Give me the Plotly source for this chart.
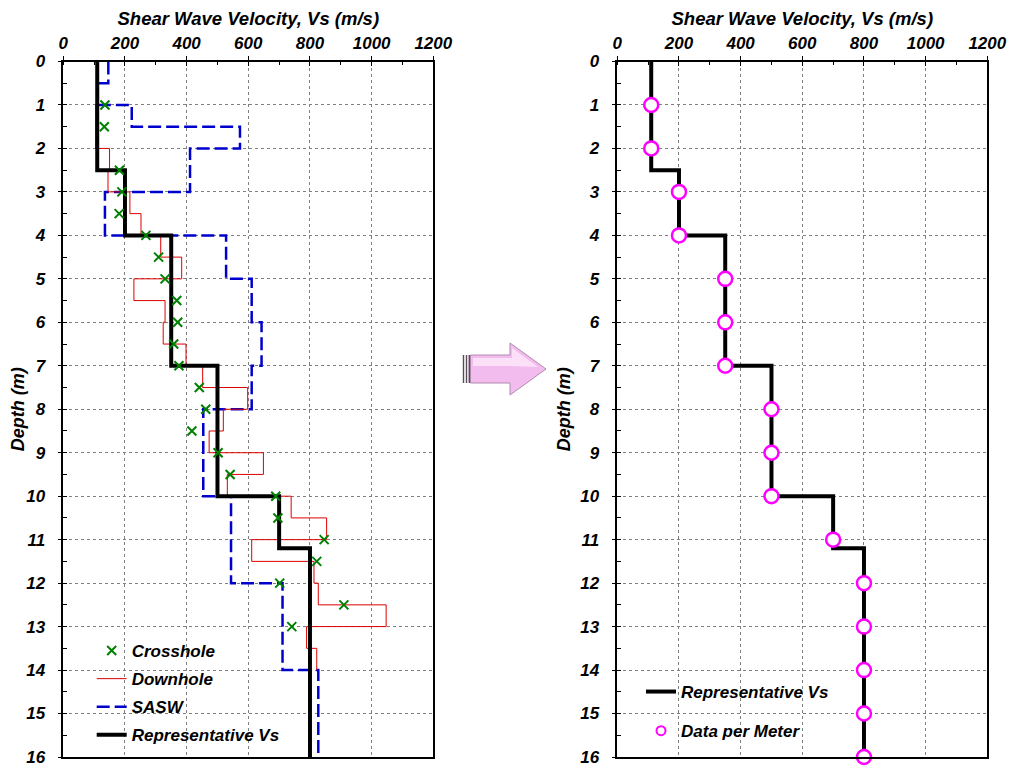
import plotly.graph_objects as go

# ---------------- data ----------------
rep_top = [0, 2.5, 4, 7, 10, 11.2]
rep_bot = [2.5, 4, 7, 10, 11.2, 16]
rep_vs = [110, 200, 350, 500, 700, 800]

down_top = [1, 2, 2.5, 3, 3.5, 4, 4.5, 5, 5.5, 6, 6.5, 7, 7.5, 8, 8.5, 9, 9.5,
            10, 10.5, 11, 11.5, 12, 12.5, 13, 13.5]
down_bot = [2, 2.5, 3, 3.5, 4, 4.5, 5, 5.5, 6, 6.5, 7, 7.5, 8, 8.5, 9, 9.5, 10,
            10.5, 11, 11.5, 12, 12.5, 13, 13.5, 14]
down_vs = [105, 150, 145, 216, 252, 316, 384, 229, 330, 324, 398, 452, 598, 519,
           473, 649, 532, 739, 854, 611, 813, 827, 1047, 789, 822]

sasw_top = [0, 0.5, 1, 1.5, 2, 3, 4, 5, 6, 7, 8, 10, 12, 14]
sasw_bot = [0.5, 1, 1.5, 2, 3, 4, 5, 6, 7, 8, 10, 12, 14, 16]
sasw_vs = [146, 112, 222, 573, 411, 135, 528, 611, 643, 611, 454, 544, 711, 827]

cross_depth = [1, 1.5, 2.5, 3, 3.5, 4, 4.5, 5, 5.5, 6, 6.5, 7, 7.5, 8, 8.5, 9,
               9.5, 10, 10.5, 11, 11.5, 12, 12.5, 13]
cross_vs = [135, 133, 182, 190, 181, 268, 309, 330, 368, 371, 358, 375, 441, 462,
            417, 502, 541, 689, 696, 846, 822, 702, 910, 741]

meter_depth = [1, 2, 3, 4, 5, 6, 7, 8, 9, 10, 11, 12, 13, 14, 15, 16]
meter_vs = [110, 110, 200, 200, 350, 350, 350, 500, 500, 500, 700, 800, 800,
            800, 800, 800]

x_title = "Shear Wave Velocity, Vs (m/s)"
y_title = "Depth (m)"


def steps(tops, bots, vs):
    xs, ys = [], []
    for t, b, v in zip(tops, bots, vs):
        xs += [v, v]
        ys += [t, b]
    return xs, ys


# page has an 8px body margin: figure occupies page px 8..1009 / 8..766
OFF = 8
W, H = 1001, 758
FONT = "Liberation Sans, Arial, sans-serif"


def fnt(size):
    return dict(family=FONT, size=size, color="black", weight="bold", style="italic")


def px(x):
    return (x - OFF) / W


def py(y):
    return 1 - (y - OFF) / H


fig = go.Figure()

rep_x, rep_y = steps(rep_top, rep_bot, rep_vs)
down_x, down_y = steps(down_top, down_bot, down_vs)
sasw_x, sasw_y = steps(sasw_top, sasw_bot, sasw_vs)

# left panel
fig.add_trace(go.Scatter(x=sasw_x, y=sasw_y, mode="lines", name="SASW",
                         line=dict(color="#0000cc", width=2.5, dash="13px,5px"),
                         legend="legend", legendrank=3, legendgroup="g3",
                         xaxis="x", yaxis="y"))
fig.add_trace(go.Scatter(x=down_x, y=down_y, mode="lines", name="Downhole",
                         line=dict(color="#dd0000", width=1),
                         legend="legend", legendrank=2, legendgroup="g2",
                         xaxis="x", yaxis="y"))
fig.add_trace(go.Scatter(x=rep_x, y=rep_y, mode="lines", name="Representative Vs",
                         line=dict(color="black", width=4),
                         legend="legend", legendrank=4, legendgroup="g4",
                         xaxis="x", yaxis="y"))
fig.add_trace(go.Scatter(x=cross_vs, y=cross_depth, mode="markers", name="Crosshole",
                         marker=dict(symbol="x-thin", size=9, color="#008000",
                                     line=dict(color="#008000", width=2)),
                         legend="legend", legendrank=1, legendgroup="g1",
                         xaxis="x", yaxis="y"))

# right panel
fig.add_trace(go.Scatter(x=rep_x, y=rep_y, mode="lines", name="Representative Vs",
                         line=dict(color="black", width=4),
                         legend="legend2", legendrank=1, legendgroup="h1",
                         xaxis="x2", yaxis="y2"))
fig.add_trace(go.Scatter(x=meter_vs, y=meter_depth, mode="markers", name="Data per Meter",
                         marker=dict(symbol="circle", size=14, color="white",
                                     line=dict(color="#ff00ff", width=2.5)),
                         showlegend=False, legendgroup="h2",
                         xaxis="x2", yaxis="y2", cliponaxis=False))
# legend entry with the smaller legend symbol
fig.add_trace(go.Scatter(x=[None], y=[None], mode="markers", name="Data per Meter",
                         marker=dict(symbol="circle", size=9, color="white",
                                     line=dict(color="#ff00ff", width=2)),
                         legend="legend2", legendrank=2, legendgroup="h2",
                         xaxis="x2", yaxis="y2", hoverinfo="skip"))

# dummy traces to activate overlay tick axes (inside half of crossing ticks)
for xa, ya in [("x3", "y"), ("x", "y3"), ("x4", "y2"), ("x2", "y4")]:
    fig.add_trace(go.Scatter(x=[None], y=[None], xaxis=xa, yaxis=ya,
                             showlegend=False, hoverinfo="skip"))

dom_l = [px(63.3), px(433.3)]
dom_r = [px(617.3), px(987.3)]
dom_y = [py(757), py(61.5)]


def xax(domain, anchor):
    return dict(domain=domain, anchor=anchor, range=[0, 1200], side="top",
                tick0=0, dtick=200, ticks="outside", ticklen=4, tickwidth=1,
                tickcolor="black",
                minor=dict(dtick=100, ticks="inside", ticklen=4, tickcolor="black",
                           showgrid=False),
                showgrid=True, gridcolor="#808080", griddash="dot", gridwidth=1,
                showline=True, linecolor="black", linewidth=1.5, mirror=True,
                zeroline=False, tickfont=fnt(17), ticklabelstandoff=0,
                ticklabeloverflow="allow",
                title=dict(text=x_title, font=fnt(18.5), standoff=4),
                automargin=False)


def yax(domain, anchor):
    return dict(domain=domain, anchor=anchor, range=[16, 0], tick0=0, dtick=1,
                ticks="outside", ticklen=4, tickwidth=1, tickcolor="black",
                minor=dict(dtick=0.5, ticks="inside", ticklen=4, tickcolor="black",
                           showgrid=False),
                showgrid=True, gridcolor="#808080", griddash="dot", gridwidth=1,
                showline=True, linecolor="black", linewidth=1.5, mirror=True,
                zeroline=False, tickfont=fnt(17), ticklabelstandoff=9,
                ticklabeloverflow="allow",
                title=dict(text=y_title, font=fnt(18), standoff=5),
                automargin=False)


def xover(base, anchor):
    return dict(overlaying=base, anchor=anchor, side="top", range=[0, 1200],
                tick0=0, dtick=200, ticks="inside", ticklen=4, tickcolor="black",
                showticklabels=False, showgrid=False, showline=False,
                zeroline=False)


def yover(base, anchor):
    return dict(overlaying=base, anchor=anchor, side="left", range=[16, 0],
                tick0=0, dtick=1, ticks="inside", ticklen=4, tickcolor="black",
                showticklabels=False, showgrid=False, showline=False,
                zeroline=False)


# arrow decoration (paper coordinates)
arrow_path = ("M {a},{b} L {c},{b} L {c},{d} L {e},{f} L {c},{g} L {c},{h} L {a},{h} Z"
              .format(a=px(470.5), b=py(355), c=px(510), d=py(343), e=px(546),
                      f=py(369), g=py(395), h=py(383)))
hl_path = ("M {a},{b} L {c},{b} L {c},{d} L {e},{f} L {c},{g} L {c},{h} L {a},{h} Z"
           .format(a=px(473), b=py(358), c=px(512), d=py(348), e=px(538),
                   f=py(367), g=py(366), h=py(366)))
shapes = [
    dict(type="path", path=arrow_path, xref="paper", yref="paper",
         fillcolor="#f2bdee", line=dict(color="#b08aae", width=1)),
    dict(type="path", path=hl_path, xref="paper", yref="paper",
         fillcolor="#fbe0f8", line=dict(width=0)),
]
for sx in [463.5, 466.5, 469.3]:
    shapes.append(dict(type="line", xref="paper", yref="paper",
                       x0=px(sx), x1=px(sx), y0=py(355), y1=py(383),
                       line=dict(color="#5a4a5a", width=1.4)))

fig.update_layout(
    width=W, height=H,
    margin=dict(l=0, r=0, t=0, b=0),
    paper_bgcolor="white", plot_bgcolor="white",
    xaxis=xax(dom_l, "y"), yaxis=yax(dom_y, "x"),
    xaxis2=xax(dom_r, "y2"), yaxis2=yax(dom_y, "x2"),
    xaxis3=xover("x", "y"), yaxis3=yover("y", "x"),
    xaxis4=xover("x2", "y2"), yaxis4=yover("y2", "x2"),
    legend=dict(x=px(91.7), y=py(633), xanchor="left", yanchor="top",
                bgcolor="rgba(0,0,0,0)", font=fnt(17), tracegroupgap=3,
                itemwidth=30),
    legend2=dict(x=px(641), y=py(674), xanchor="left", yanchor="top",
                 bgcolor="rgba(0,0,0,0)", font=fnt(17), tracegroupgap=14,
                 itemwidth=30),
    shapes=shapes,
    showlegend=True,
)

fig.write_html("out.html")
